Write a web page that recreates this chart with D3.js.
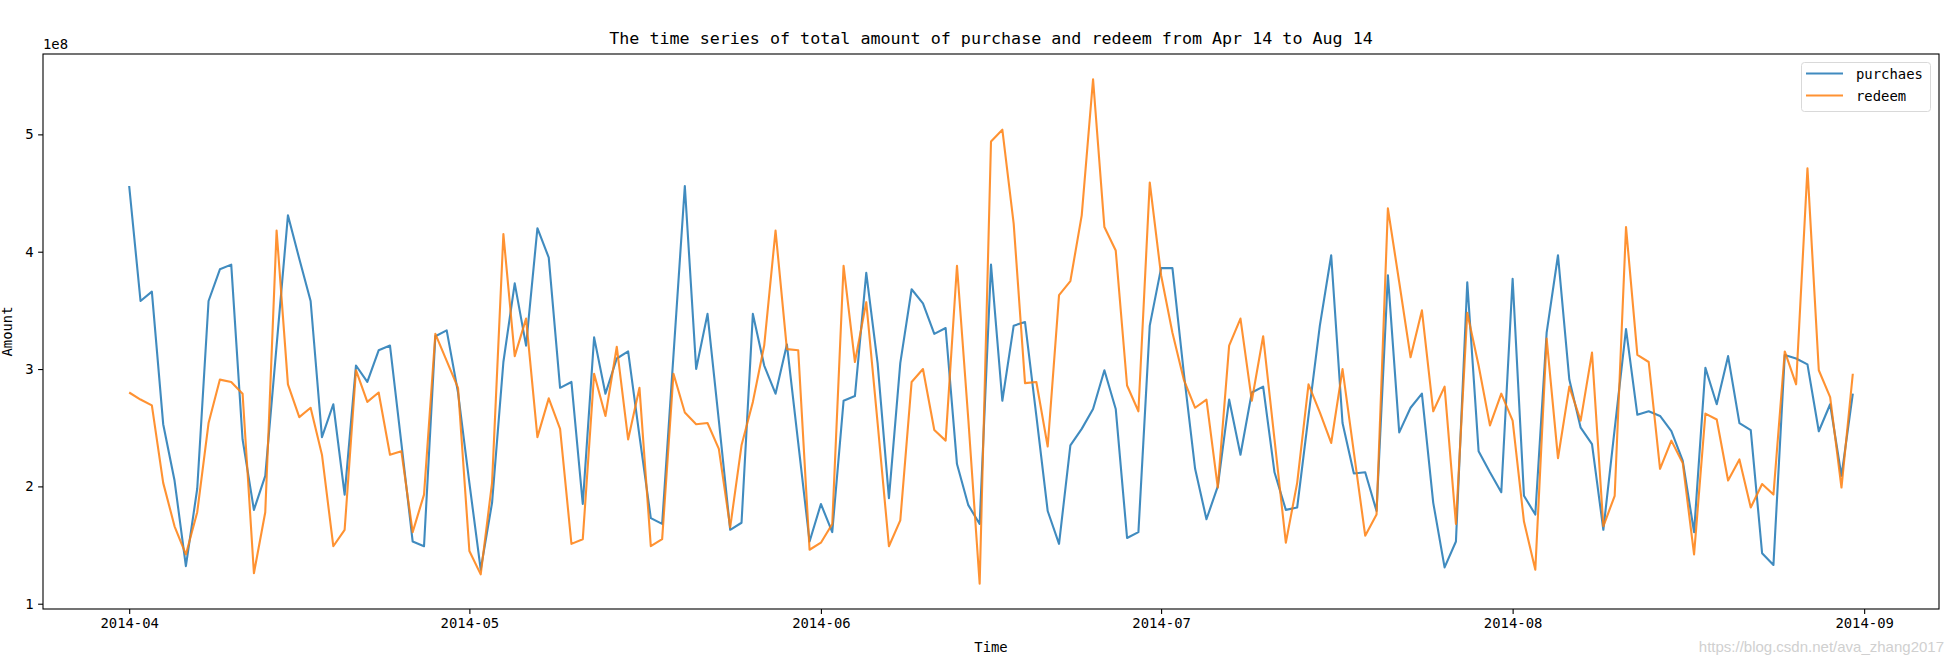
<!DOCTYPE html>
<html>
<head>
<meta charset="utf-8">
<script src="https://cdn.jsdelivr.net/npm/d3@7"></script>
<style>
  html, body { margin: 0; padding: 0; background: #fff; }
  svg { display: block; }
  text { fill: #000; }
</style>
</head>
<body>
<svg id="chart" width="1952" height="662"></svg>
<script>
// ---- data (values in 1e8) ----
const startDate = "2014-04-01";
const endDate = "2014-08-31";
const seriesNames = ["purchaes", "redeem"];
const purchase = [
  4.56,3.58,3.66,2.53,2.05,1.32,1.98,3.58,3.85,3.89,
  2.40,1.80,2.09,3.20,4.31,3.94,3.58,2.42,2.70,1.93,
  3.03,2.89,3.16,3.20,2.37,1.53,1.49,3.28,3.33,2.80,
  2.03,1.29,1.86,3.06,3.73,3.20,4.20,3.95,2.84,2.89,
  1.85,3.27,2.79,3.09,3.15,2.43,1.73,1.68,3.12,4.56,
  3.00,3.47,2.56,1.63,1.69,3.47,3.03,2.79,3.21,2.37,
  1.53,1.85,1.61,2.73,2.77,3.82,3.05,1.90,3.05,3.68,
  3.56,3.30,3.35,2.19,1.84,1.68,3.89,2.73,3.37,3.40,
  2.60,1.79,1.51,2.35,2.49,2.66,2.99,2.66,1.56,1.61,
  3.37,3.86,3.86,2.97,2.15,1.72,2.00,2.74,2.27,2.80,
  2.85,2.12,1.80,1.82,2.60,3.37,3.97,2.54,2.11,2.12,
  1.79,3.80,2.46,2.67,2.79,1.86,1.31,1.53,3.74,2.30,
  2.12,1.95,3.77,1.92,1.76,3.31,3.97,2.91,2.50,2.36,
  1.63,2.49,3.34,2.61,2.64,2.60,2.47,2.22,1.61,3.01,
  2.70,3.11,2.54,2.48,1.43,1.33,3.12,3.09,3.04,2.47,
  2.70,2.09,2.79
];
const redeem = [
  2.80,2.74,2.69,2.03,1.66,1.42,1.78,2.54,2.91,2.89,
  2.79,1.26,1.78,4.18,2.87,2.59,2.67,2.27,1.49,1.63,
  2.99,2.72,2.80,2.27,2.30,1.61,1.93,3.30,3.07,2.84,
  1.45,1.25,2.03,4.15,3.11,3.43,2.42,2.75,2.49,1.51,
  1.55,2.96,2.60,3.19,2.40,2.84,1.49,1.55,2.96,2.63,
  2.53,2.54,2.32,1.65,2.35,2.72,3.20,4.18,3.17,3.16,
  1.46,1.52,1.68,3.88,3.06,3.57,2.54,1.49,1.71,2.89,
  3.00,2.48,2.39,3.88,2.57,1.17,4.94,5.04,4.24,2.88,
  2.89,2.34,3.63,3.75,4.31,5.47,4.21,4.01,2.86,2.64,
  4.59,3.80,3.31,2.91,2.67,2.74,1.99,3.20,3.43,2.73,
  3.28,2.40,1.52,2.03,2.87,2.63,2.37,3.00,2.29,1.58,
  1.76,4.37,3.74,3.10,3.50,2.64,2.85,1.68,3.48,3.03,
  2.52,2.79,2.56,1.70,1.29,3.26,2.24,2.85,2.56,3.14,
  1.66,1.92,4.21,3.12,3.06,2.15,2.39,2.20,1.42,2.62,
  2.57,2.05,2.23,1.82,2.02,1.93,3.15,2.87,4.71,2.99,
  2.76,1.99,2.96
];
const xTickLabels = ["2014-04","2014-05","2014-06","2014-07","2014-08","2014-09"];
const yTickValues = [1, 2, 3, 4, 5];
const colors = ["#1f77b4", "#ff7f0e"];

// ---- layout ----
const MONO = "'DejaVu Sans Mono', 'Liberation Mono', monospace";
const plot = { left: 43, right: 1939, top: 54, bottom: 609 };

const parse = d3.utcParse("%Y-%m-%d");
const parseMonth = d3.utcParse("%Y-%m");
const t0 = parse(startDate), t1 = parse(endDate);
const dates = d3.utcDay.range(t0, d3.utcDay.offset(t1, 1));

const svg = d3.select("#chart");

// matplotlib-style 5% margins
const span = t1 - t0;
const x = d3.scaleUtc()
  .domain([new Date(+t0 - span * 0.05), new Date(+t1 + span * 0.05)])
  .range([plot.left, plot.right]);

const allVals = purchase.concat(redeem);
const vmin = d3.min(allVals), vmax = d3.max(allVals);
const vr = vmax - vmin;
const y = d3.scaleLinear()
  .domain([vmin - vr * 0.05, vmax + vr * 0.05])
  .range([plot.bottom, plot.top]);

// ---- lines ----
const line = d3.line()
  .x((d, i) => x(dates[i]))
  .y(d => y(d));

svg.append("clipPath").attr("id", "clip")
  .append("rect")
  .attr("x", plot.left).attr("y", plot.top)
  .attr("width", plot.right - plot.left).attr("height", plot.bottom - plot.top);

const g = svg.append("g");
[purchase, redeem].forEach((s, k) => {
  g.append("path")
    .datum(s)
    .attr("d", line)
    .attr("fill", "none")
    .attr("stroke", colors[k])
    .attr("stroke-opacity", 0.85)
    .attr("stroke-width", 2.1)
    .attr("stroke-linejoin", "round")
    .attr("clip-path", "url(#clip)");
});

// ---- axes ----
const xAxis = d3.axisBottom(x)
  .tickValues(xTickLabels.map(s => parseMonth(s)))
  .tickFormat(d3.utcFormat("%Y-%m"))
  .tickSize(4.9)
  .tickPadding(4.5);
const gx = svg.append("g")
  .attr("transform", `translate(0,${plot.bottom})`)
  .call(xAxis);
gx.select(".domain").remove();
gx.selectAll(".tick line").attr("stroke", "#000").attr("stroke-width", 1.1);
gx.selectAll(".tick text")
  .style("font-family", MONO)
  .attr("font-size", 13.9).attr("fill", "#000");

const yAxis = d3.axisLeft(y)
  .tickValues(yTickValues)
  .tickFormat(d3.format("d"))
  .tickSize(4.9)
  .tickPadding(4.5);
const gy = svg.append("g")
  .attr("transform", `translate(${plot.left},0)`)
  .call(yAxis);
gy.select(".domain").remove();
gy.selectAll(".tick line").attr("stroke", "#000").attr("stroke-width", 1.1);
gy.selectAll(".tick text")
  .style("font-family", MONO)
  .attr("font-size", 13.9).attr("fill", "#000");

// frame (spines)
svg.append("rect")
  .attr("x", plot.left).attr("y", plot.top)
  .attr("width", plot.right - plot.left).attr("height", plot.bottom - plot.top)
  .attr("fill", "none").attr("stroke", "#000").attr("stroke-width", 1.1);

// offset text
svg.append("text")
  .attr("x", plot.left).attr("y", plot.top - 5)
  .style("font-family", MONO)
  .attr("font-size", 13.9)
  .text("1e8");

// title
svg.append("text")
  .attr("x", (plot.left + plot.right) / 2).attr("y", plot.top - 10)
  .attr("text-anchor", "middle")
  .style("font-family", MONO)
  .attr("font-size", 16.7)
  .text("The time series of total amount of purchase and redeem from Apr 14 to Aug 14");

// axis labels
svg.append("text")
  .attr("x", (plot.left + plot.right) / 2).attr("y", 652)
  .attr("text-anchor", "middle")
  .style("font-family", MONO)
  .attr("font-size", 13.9)
  .text("Time");
svg.append("text")
  .attr("transform", `translate(12,${(plot.top + plot.bottom) / 2}) rotate(-90)`)
  .attr("text-anchor", "middle")
  .style("font-family", MONO)
  .attr("font-size", 13.9)
  .text("Amount");

// legend
const lg = svg.append("g");
lg.append("rect")
  .attr("x", 1801.5).attr("y", 62.5).attr("width", 129).attr("height", 49)
  .attr("rx", 3).attr("fill", "#fff").attr("fill-opacity", 0.8)
  .attr("stroke", "#d9d9d9").attr("stroke-width", 1);
seriesNames.forEach((n, k) => {
  const yy = 73.5 + k * 22;
  lg.append("line")
    .attr("x1", 1806).attr("x2", 1843).attr("y1", yy).attr("y2", yy)
    .attr("stroke", colors[k]).attr("stroke-opacity", 0.85).attr("stroke-width", 2.1);
  lg.append("text")
    .attr("x", 1856).attr("y", yy + 5)
    .style("font-family", MONO)
    .attr("font-size", 13.9)
    .text(n);
});

// watermark
svg.append("text")
  .attr("x", 1944).attr("y", 652)
  .attr("text-anchor", "end")
  .style("font-family", "'Liberation Sans Narrow', 'Liberation Sans', Arial, sans-serif")
  .attr("font-size", 15)
  .style("fill", "#d0d0d0")
  .text("https://blog.csdn.net/ava_zhang2017");
</script>
</body>
</html>
